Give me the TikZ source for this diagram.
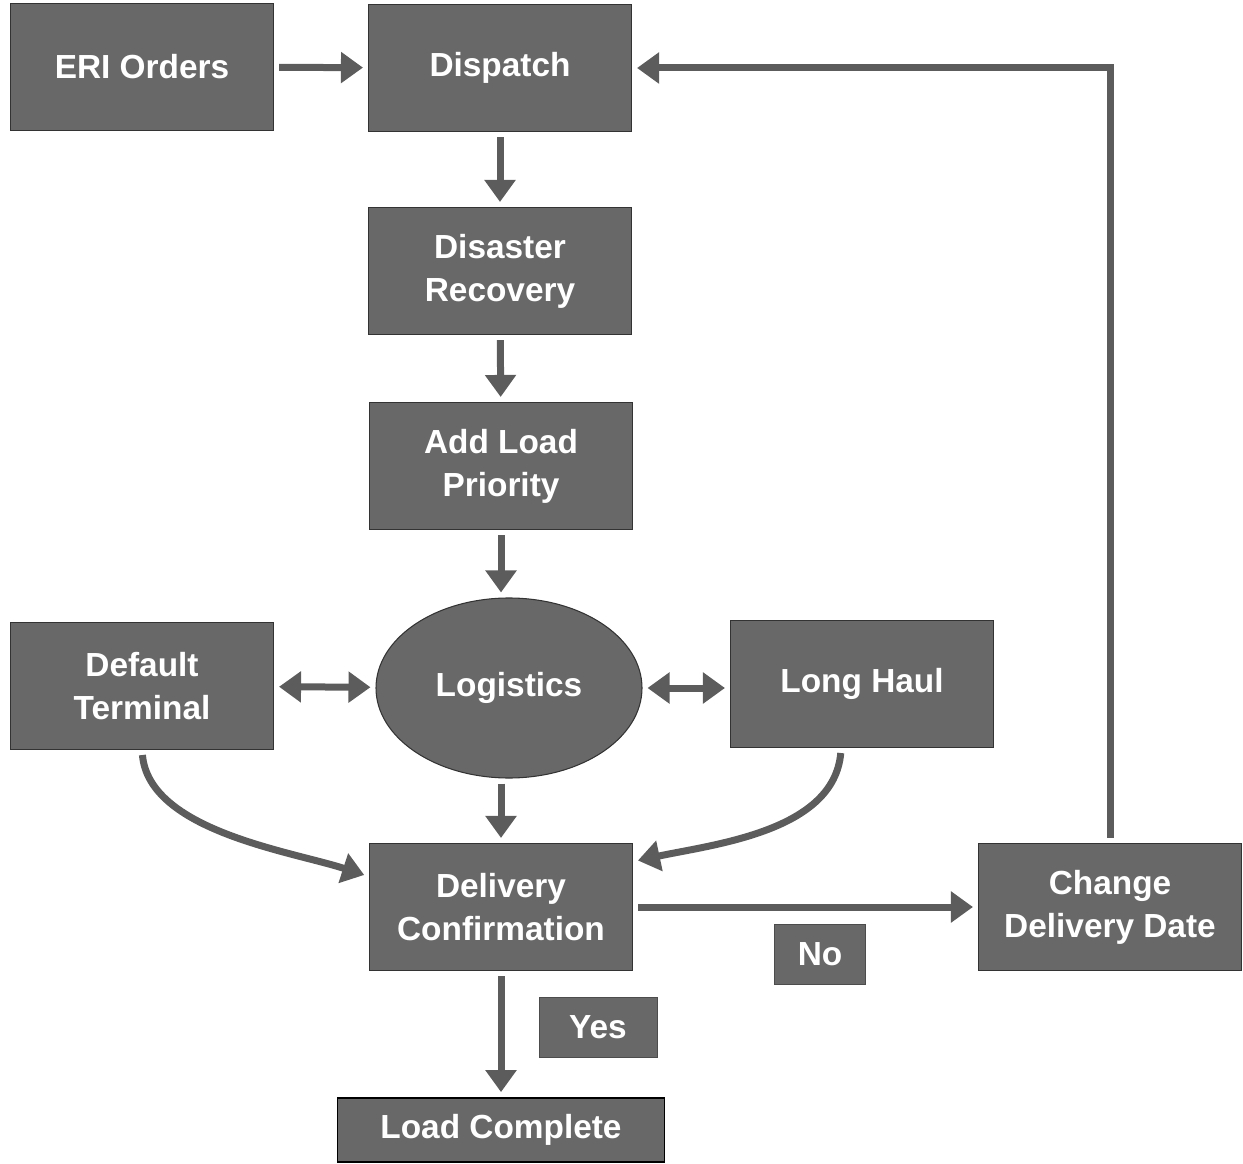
\documentclass[tikz,border=0pt]{standalone}
\usepackage{fontspec}
\setmainfont{Liberation Sans}
\usetikzlibrary{arrows.meta,shapes.geometric}
\definecolor{boxgray}{RGB}{104,104,104}
\definecolor{arrowgray}{RGB}{92,92,92}
\begin{document}
\begin{tikzpicture}[
  x=0.2mm, y=-0.2mm,
  every node/.style={font=\bfseries\fontsize{19}{24.5}\selectfont, align=center, text=white},
  proc/.style={rectangle, draw=black!80, line width=0.6pt, fill=boxgray, minimum width=5.26cm, minimum height=2.54cm, inner sep=2pt},
  tag/.style={rectangle, draw=black!70, line width=0.5pt, fill=boxgray, minimum height=1.2cm, inner sep=4pt},
  seta/.style={-{Triangle[length=4.4mm, width=6mm]}, line width=1.4mm, draw=arrowgray, shorten <=1mm, shorten >=1mm},
  setadupla/.style={{Triangle[length=4.4mm, width=6mm]}-{Triangle[length=4.4mm, width=6mm]}, line width=1.4mm, draw=arrowgray, shorten <=1mm, shorten >=1mm}
]
\useasboundingbox (0,0) rectangle (1243,1164);

% Coluna central
\node[proc] (eri) at (142, 67) {ERI Orders};
\node[proc] (dispatch) at (500, 68) {Dispatch};
\node[proc] (disaster) at (500, 271) {Disaster\\Recovery};
\node[proc] (priority) at (501, 466) {Add Load\\Priority};
\node[ellipse, draw=black!80, line width=0.6pt, fill=boxgray, minimum width=5.32cm, minimum height=3.6cm] (logistics) at (509, 688) {Logistics};
\node[proc] (terminal) at (142, 686) {Default\\Terminal};
\node[proc] (longhaul) at (862, 684) {Long Haul};
\node[proc] (delivery) at (501, 907) {Delivery\\Confirmation};
\node[proc] (change) at (1110, 907) {Change\\Delivery Date};
\node[proc, minimum width=6.54cm, minimum height=1.28cm, draw=black, line width=1pt] (complete) at (501, 1130) {Load Complete};

% Respostas
\node[tag, minimum width=1.82cm] (no) at (820, 954) {No};
\node[tag, minimum width=2.36cm] (yes) at (598, 1027) {Yes};

% Ligações
\draw[seta] (eri) -- (dispatch);
\draw[seta] (dispatch) -- (disaster);
\draw[seta] (disaster) -- (priority);
\draw[seta] (priority) -- (priority |- logistics.north);
\draw[setadupla] (terminal) -- (logistics);
\draw[setadupla] (logistics) -- (longhaul.west |- logistics);
\draw[seta] (delivery |- logistics.south) -- (delivery);
\draw[seta] (terminal.south) to[out=-85, in=162, looseness=0.8] (delivery.167);
\draw[seta] (longhaul.252) to[out=-95, in=12, looseness=0.9] (delivery.19);
\draw[seta] (delivery) -- (change);
\draw[seta] (delivery) -- (complete);
\draw[seta] (change.north) |- (dispatch.east);
\end{tikzpicture}
\end{document}
